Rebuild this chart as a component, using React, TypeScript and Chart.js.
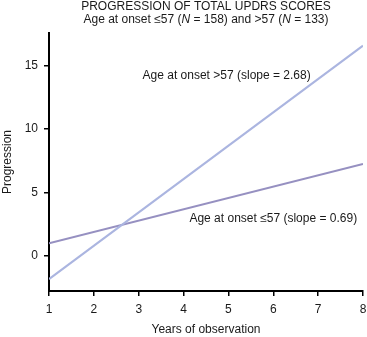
import React, { useEffect, useRef } from "react";
import { Chart, registerables } from "chart.js";

Chart.register(...registerables);

const years = [1, 8];
const olderOnset = [-1.86, 16.6];
const youngerOnset = [0.98, 7.24];
const yTicks = [0, 5, 10, 15];
const titleLine1 = "PROGRESSION OF TOTAL UPDRS SCORES";
const titleLine2Parts: [string, boolean][] = [
  ["Age at onset \u226457 (", false],
  ["N", true],
  [" = 158) and >57 (", false],
  ["N", true],
  [" = 133)", false],
];
const olderLabel = "Age at onset >57 (slope = 2.68)";
const youngerLabel = "Age at onset \u226457 (slope = 0.69)";
const olderLabelAt = { x: 4.96, y: 14.2 };
const youngerLabelAt = { x: 6.0, y: 2.9 };

const FONT = '"Liberation Sans", Arial, Helvetica, sans-serif';
const TEXT = "#1a1a1a";

export default function App() {
  const ref = useRef<HTMLCanvasElement | null>(null);
  useEffect(() => {
    if (!ref.current) return;
    const textPlugin = {
      id: "texts",
      afterDraw(chart: any) {
        const { ctx, chartArea, scales } = chart;
        const cx = (chartArea.left + chartArea.right) / 2;
        ctx.save();
        ctx.fillStyle = TEXT;
        ctx.textBaseline = "middle";
        ctx.textAlign = "center";
        ctx.font = `12px ${FONT}`;
        ctx.fillText(titleLine1, cx, 7);
        let total = 0;
        const widths = titleLine2Parts.map(([t, it]) => {
          ctx.font = `${it ? "italic " : ""}12px ${FONT}`;
          const w = ctx.measureText(t).width;
          total += w;
          return w;
        });
        ctx.textAlign = "left";
        let x = cx - total / 2;
        titleLine2Parts.forEach(([t, it], i) => {
          ctx.font = `${it ? "italic " : ""}12px ${FONT}`;
          ctx.fillText(t, x, 20);
          x += widths[i];
        });
        ctx.textAlign = "center";
        ctx.font = `12px ${FONT}`;
        ctx.fillText(
          olderLabel,
          scales.x.getPixelForValue(olderLabelAt.x),
          scales.y.getPixelForValue(olderLabelAt.y)
        );
        ctx.fillText(
          youngerLabel,
          scales.x.getPixelForValue(youngerLabelAt.x),
          scales.y.getPixelForValue(youngerLabelAt.y)
        );
        ctx.restore();
      },
    };
    const chart = new Chart(ref.current, {
      type: "line",
      data: {
        datasets: [
          {
            label: "older",
            data: years.map((x, i) => ({ x, y: olderOnset[i] })),
            borderColor: "#abb5e0",
            borderWidth: 2,
            pointRadius: 0,
          },
          {
            label: "younger",
            data: years.map((x, i) => ({ x, y: youngerOnset[i] })),
            borderColor: "#9690c1",
            borderWidth: 2,
            pointRadius: 0,
          },
        ],
      },
      options: {
        animation: false,
        responsive: true,
        maintainAspectRatio: false,
        layout: { padding: { top: 33, right: 4, left: 0, bottom: 0 } },
        plugins: {
          legend: { display: false },
          tooltip: { enabled: false },
          title: { display: false },
        },
        scales: {
          x: {
            type: "linear",
            min: 1,
            max: 8,
            ticks: {
              stepSize: 1,
              color: TEXT,
              font: { family: FONT, size: 12 },
              padding: 6,
            },
            grid: {
              display: true,
              drawOnChartArea: false,
              drawTicks: true,
              tickLength: 5,
              color: "#000",
              lineWidth: 1.5,
            },
            border: { color: "#000", width: 2 },
            title: {
              display: true,
              text: "Years of observation",
              color: TEXT,
              font: { family: FONT, size: 12 },
              padding: 0,
            },
            afterFit(scale: any) {
              scale.height = 46;
              scale.paddingLeft = 0;
              scale.paddingRight = 0;
            },
          },
          y: {
            type: "linear",
            min: -2.8,
            max: 17.6,
            afterBuildTicks(scale: any) {
              scale.ticks = yTicks.map((v) => ({ value: v }));
            },
            ticks: {
              color: TEXT,
              font: { family: FONT, size: 12 },
              padding: 6,
            },
            grid: {
              display: true,
              drawOnChartArea: false,
              drawTicks: true,
              tickLength: 5,
              color: "#000",
              lineWidth: 1.5,
            },
            border: { color: "#000", width: 2 },
            title: {
              display: true,
              text: "Progression",
              color: TEXT,
              font: { family: FONT, size: 12 },
              padding: 0,
            },
            afterFit(scale: any) {
              scale.width = 49;
              scale.paddingTop = 0;
              scale.paddingBottom = 0;
            },
          },
        },
      },
      plugins: [textPlugin],
    } as any);
    return () => chart.destroy();
  }, []);
  return (
    <div style={{ position: "absolute", left: 0, top: 0, width: 367, height: 337, background: "#fff" }}>
      <canvas ref={ref} />
    </div>
  );
}
